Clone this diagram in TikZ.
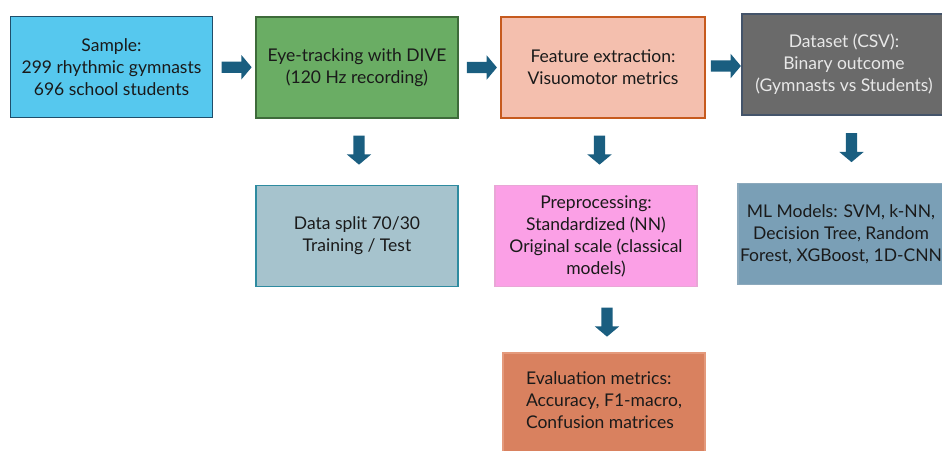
\documentclass[tikz,border=0pt]{standalone}
\usepackage{fontspec}
\setmainfont{Lato}
\usepackage{xcolor}
\usepackage{tikz}
\usetikzlibrary{positioning, shapes.arrows, calc}
\definecolor{skyfill}{HTML}{56C8EE}
\definecolor{skyline}{HTML}{1F4E6B}
\definecolor{leaffill}{HTML}{6AAD64}
\definecolor{leafline}{HTML}{3E6B3A}
\definecolor{peachfill}{HTML}{F4BFAE}
\definecolor{peachline}{HTML}{C65A1E}
\definecolor{greyfill}{HTML}{6A6A6A}
\definecolor{greyline}{HTML}{44546A}
\definecolor{greytext}{HTML}{E8E8E8}
\definecolor{mistfill}{HTML}{A6C3CD}
\definecolor{mistline}{HTML}{2E8BA0}
\definecolor{pinkfill}{HTML}{FBA0E6}
\definecolor{pinkline}{HTML}{E9A6D6}
\definecolor{steelfill}{HTML}{7A9FB6}
\definecolor{steelline}{HTML}{8CA9BC}
\definecolor{clayfill}{HTML}{D9815F}
\definecolor{clayline}{HTML}{E49A7C}
\definecolor{ink}{HTML}{1A1A1A}
\definecolor{arrowblue}{HTML}{1A5E80}
\tikzset{
  stage/.style={draw, line width=1.3pt, align=center, text=ink, font=\fontsize{17.5}{22}\selectfont, minimum width=202pt, minimum height=101pt, inner sep=2pt},
  goright/.style={single arrow, fill=arrowblue, draw=none, inner sep=5.5pt, minimum width=24pt, minimum height=30pt, single arrow head extend=6.5pt, single arrow tip angle=100},
  godown/.style={goright, shape border rotate=270, minimum height=29pt},
}
\begin{document}
\begin{tikzpicture}[x=1pt, y=-1pt]
  \useasboundingbox (0,0) rectangle (942,450);

  % Top row of stages
  \node[stage, fill=skyfill, draw=skyline] (sample) at (111.5,67)
    {Sample:\\299 rhythmic gymnasts\\696 school students};
  \node[stage, fill=leaffill, draw=leafline] (eyetrack) at (357,67.5)
    {Eye-tracking with DIVE\\(120 Hz recording)};
  \node[stage, fill=peachfill, draw=peachline, minimum width=204pt] (features) at (603,67.5)
    {Feature extraction:\\Visuomotor metrics};
  \node[stage, fill=greyfill, draw=greyline, text=greytext, minimum width=204pt] (dataset) at (844,64.5)
    {Dataset (CSV):\\Binary outcome\\(Gymnasts vs Students)};

  % Second row
  \node[stage, fill=mistfill, draw=mistline] (split) at (357,236)
    {Data split 70/30\\Training / Test};
  \node[stage, fill=pinkfill, draw=pinkline] (preproc) at (596,236)
    {Preprocessing:\\Standardized (NN)\\Original scale (classical\\models)};
  \node[stage, fill=steelfill, draw=steelline, minimum width=204pt] (models) at (841,234)
    {ML Models: SVM, k-NN,\\Decision Tree, Random\\Forest, XGBoost, 1D-CNN};

  % Evaluation (runs off the bottom edge)
  \node[stage, fill=clayfill, draw=clayline, minimum height=104pt, align=left] (evaluation) at (604,405)
    {Evaluation metrics:\\Accuracy, F1-macro,\\Confusion matrices\\[-12pt]};

  % Block arrows between stages
  \node[goright] (a1) at ($(sample.east)!0.5!(eyetrack.west)$) {};
  \node[goright] (a2) at ($(eyetrack.east)!0.5!(features.west)$) {};
  \node[goright] (a3) at ($(features.east)!0.5!(dataset.west)$) {};
  \node[godown] (d1) at ([xshift=2pt, yshift=4pt]$(eyetrack.south)!0.5!(split.north)$) {};
  \node[godown] (d2) at ([yshift=4pt]$(features.south)!0.5!(preproc.north)$) {};
  \node[godown] (d3) at ([xshift=9pt, yshift=4pt]$(dataset.south)!0.5!(models.north)$) {};
  \node[godown] (d4) at ([xshift=7pt]$(preproc.south)!0.5!(evaluation.north)$) {};
\end{tikzpicture}
\end{document}
